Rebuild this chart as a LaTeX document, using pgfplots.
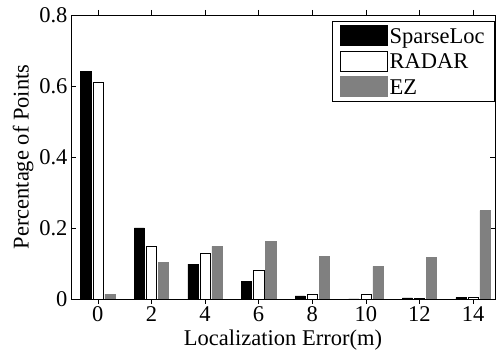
\documentclass[border=0pt]{standalone}
\usepackage{fontspec}
\setmainfont{Liberation Serif}
\usepackage{pgfplots}
\pgfplotsset{compat=1.18}
\definecolor{ezgray}{RGB}{128,128,128}
\begin{document}
\begin{tikzpicture}
\begin{axis}[
  scale only axis, width=424pt, height=284pt,
  xmin=-1, xmax=14.82, ymin=0, ymax=0.8,
  xtick={0,2,4,6,8,10,12,14},
  ytick={0,0.2,0.4,0.6,0.8},
  yticklabels={0,0.2,0.4,0.6,0.8},
  tick align=inside, major tick length=5pt,
  axis line style={line width=0.8pt},
  tick style={line width=0.6pt, black},
  font=\fontsize{22.5}{26}\selectfont,
  /pgf/number format/assume math mode=true,
  xticklabel style={yshift=1pt},
  xlabel={Localization Error(m)},
  xlabel style={yshift=-1pt},
  ylabel={Percentage of Points},
  ylabel style={yshift=-1pt},
  ybar, bar width=0.38,
  legend style={at={(1,0.979)}, anchor=north east, draw=black, line width=0.8pt,
    font=\fontsize{22.5}{26}\selectfont, cells={anchor=west}, inner xsep=8pt, inner ysep=4pt,
    row sep=4pt},
  legend image code/.code={\draw[#1,line width=0.6pt] (0pt,-9pt) rectangle (47pt,11pt);},
]
\addplot[fill=black, draw=black, bar shift=-0.45] coordinates {
 (0,0.642) (2,0.200) (4,0.098) (6,0.050) (8,0.009) (10,0) (12,0.003) (14,0.004)};
\addplot[fill=white, draw=black, bar shift=0] coordinates {
 (0,0.612) (2,0.150) (4,0.128) (6,0.082) (8,0.014) (10,0.014) (12,0.003) (14,0.005)};
\addplot[fill=ezgray, draw=ezgray, bar shift=0.45] coordinates {
 (0,0.014) (2,0.103) (4,0.148) (6,0.162) (8,0.120) (10,0.092) (12,0.117) (14,0.249)};
\legend{SparseLoc,RADAR,EZ}
\end{axis}
\pgfresetboundingbox
\path ([xshift=-71pt,yshift=-55pt]current axis.south west) rectangle ([xshift=1pt,yshift=15pt]current axis.north east);
\end{tikzpicture}
\end{document}
